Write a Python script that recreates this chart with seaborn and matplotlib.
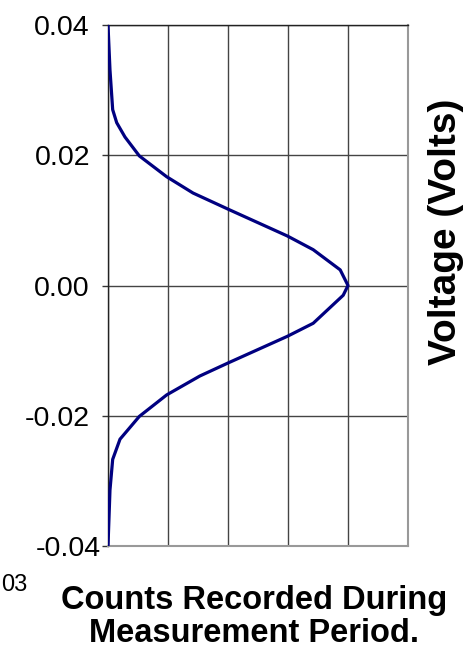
import matplotlib
matplotlib.use("Agg")
import matplotlib.pyplot as plt
import matplotlib.transforms as mtransforms
import seaborn as sns
import pandas as pd

voltage = [0.040, 0.0331, 0.0270, 0.0250, 0.0228, 0.0199, 0.0167, 0.0142,
           0.0116, 0.0076, 0.0055, 0.0024, 0.0, -0.0015, -0.0058, -0.0078,
           -0.0119, -0.0139, -0.0168, -0.0201, -0.0236, -0.0267, -0.0314, -0.040]
counts = [0, 33, 78, 145, 283, 522, 978, 1417, 2030, 2990, 3420, 3870, 4000,
          3920, 3420, 2990, 2000, 1530, 978, 522, 200, 78, 33, 0]
y_ticks = [-0.04, -0.02, 0.00, 0.02, 0.04]
y_ticklabels = ["-0.04", "-0.02", "0.00", "0.02", "0.04"]
x_grid = [0, 1000, 2000, 3000, 4000, 5000]

sns.set_style("white")
plt.rcParams["font.family"] = ["Liberation Sans", "DejaVu Sans"]
plt.rcParams["axes.unicode_minus"] = False
plt.rcParams["text.color"] = "black"
plt.rcParams["ytick.labelcolor"] = "black"

df = pd.DataFrame({"counts": counts, "voltage": voltage})

fig = plt.figure(figsize=(4.71, 6.54), dpi=100)
ax = fig.add_axes([108/471, 1-546/654, 300/471, 521/654])

sns.lineplot(data=df, x="counts", y="voltage", orient="y", estimator=None,
             sort=False, color="#000080", linewidth=2.3, ax=ax, zorder=3)
ax.lines[0].set_solid_joinstyle("round")

ax.set_xlim(0, 5000)
ax.set_ylim(-0.04, 0.04)
ax.set_xticks(x_grid)
ax.set_xticklabels([])
ax.tick_params(axis="x", length=0)
ax.set_yticks(y_ticks)
ax.set_yticklabels(y_ticklabels, fontsize=20.5, color="black")
ax.tick_params(axis="y", direction="out", length=4, width=1, color="#333333",
               pad=9, left=True, labelcolor="black")
ax.grid(True, color="#444444", linewidth=1.0)
ax.set_axisbelow(True)
ax.set_xlabel("")
ax.set_ylabel("")

for side in ["left", "top"]:
    ax.spines[side].set_color("#222222")
    ax.spines[side].set_linewidth(1.0)
for side in ["right", "bottom"]:
    ax.spines[side].set_color("#999999")
    ax.spines[side].set_linewidth(1.5)

# the bottom label sits closer to the axis
labs = ax.get_yticklabels()
off = mtransforms.ScaledTranslation(11/100, 0, fig.dpi_scale_trans)
labs[0].set_transform(labs[0].get_transform() + off)

fig.text(446/471, 1-232/654, "Voltage (Volts)", rotation=90, fontsize=28,
         fontweight="bold", ha="center", va="center", color="black")
fig.text(254/471, 1-617/654, "Counts Recorded During\nMeasurement Period.",
         fontsize=23.5, fontweight="bold", ha="center", va="center",
         linespacing=1.08, color="black")
fig.text(1/471, 1-585/654, "03", fontsize=17, ha="left", va="center",
         color="black")

fig.savefig("out.png", dpi=100)
